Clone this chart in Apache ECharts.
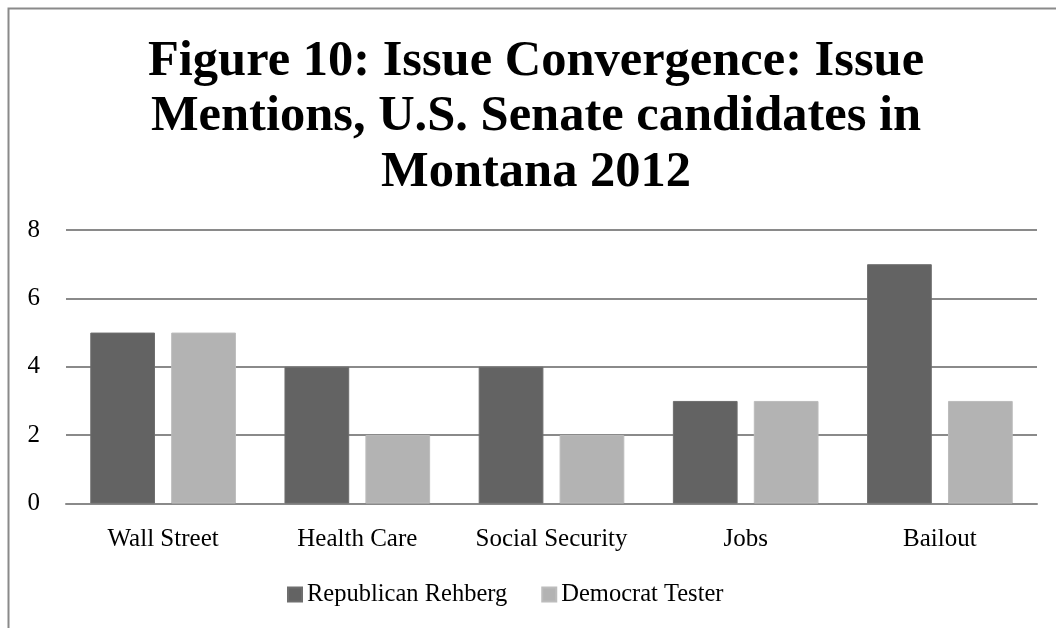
<!DOCTYPE html>
<html>
<head>
<meta charset="utf-8">
<script src="https://cdn.jsdelivr.net/npm/echarts@6/dist/echarts.min.js"></script>
<style>
html,body{margin:0;padding:0;background:#fff;}
#chart{width:1056px;height:628px;}
</style>
</head>
<body>
<div id="chart"></div>
<script>
const titleText = "Figure 10: Issue Convergence: Issue\nMentions, U.S. Senate candidates in\nMontana 2012";
const categories = ["Wall Street", "Health Care", "Social Security", "Jobs", "Bailout"];
const seriesNames = ["Republican Rehberg", "Democrat Tester"];
const republican = [5, 4, 4, 3, 7];
const democrat = [5, 2, 2, 3, 3];
const yTicks = [0, 2, 4, 6, 8];

const serif = "'Liberation Serif', 'DejaVu Serif', serif";
const chart = echarts.init(document.getElementById('chart'), null, {renderer: 'canvas'});
chart.setOption({
  animation: false,
  backgroundColor: '#ffffff',
  graphic: [{
    type: 'rect',
    shape: {x: 8.5, y: 8.5, width: 1200, height: 800},
    style: {fill: 'none', stroke: '#8a8a8a', lineWidth: 2},
    silent: true
  }],
  title: {
    text: titleText,
    left: 536,
    textAlign: 'center',
    top: 34,
    padding: 0,
    textStyle: {
      fontFamily: serif,
      fontWeight: 'bold',
      fontSize: 50.5,
      lineHeight: 55.5,
      color: '#000'
    }
  },
  legend: {
    data: seriesNames,
    left: 287,
    top: 582,
    padding: 0,
    itemWidth: 14,
    itemHeight: 14,
    itemGap: 34,
    icon: 'rect',
    textStyle: {fontFamily: serif, fontSize: 24.5, color: '#000'}
  },
  grid: {left: 66, right: 19, top: 230, bottom: 124.5, containLabel: false},
  xAxis: {
    type: 'category',
    data: categories,
    axisLine: {show: true, lineStyle: {color: '#8a8a8a', width: 2}},
    axisTick: {show: false},
    axisLabel: {fontFamily: serif, fontSize: 25, color: '#000', margin: 23, interval: 0}
  },
  yAxis: {
    type: 'value',
    min: yTicks[0],
    max: yTicks[yTicks.length - 1],
    interval: 2,
    axisLine: {show: false},
    axisTick: {show: false},
    axisLabel: {fontFamily: serif, fontSize: 25, color: '#000', margin: 26},
    splitLine: {lineStyle: {color: '#8a8a8a', width: 2}}
  },
  series: [
    {
      name: seriesNames[0], type: 'bar', data: republican,
      barGap: '25%', barCategoryGap: '25%',
      itemStyle: {color: '#636363', borderColor: '#6e6e6e', borderWidth: 1}
    },
    {
      name: seriesNames[1], type: 'bar', data: democrat,
      itemStyle: {color: '#b3b3b3', borderColor: '#bcbcbc', borderWidth: 1}
    }
  ]
});
</script>
</body>
</html>
